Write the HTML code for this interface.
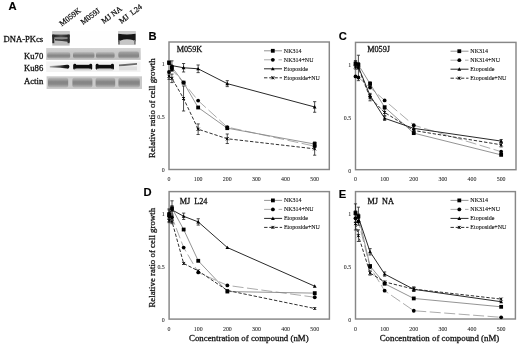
<!DOCTYPE html>
<html><head><meta charset="utf-8"><style>
html,body{margin:0;padding:0;background:#fff;overflow:hidden}
svg{display:block}
text{font-family:"Liberation Serif",serif;fill:#111}
.tk{font-size:5.9px;stroke-width:0.05px!important;fill:#222}
.ct{font-size:8.2px}
.lg{font-size:6px}
.bl{font-size:8.6px;stroke-width:0.3px}
.ln{font-size:7.9px;stroke-width:0.25px}
text{stroke:#111;stroke-width:0.15px}
.at,.ct{stroke-width:0.28px}
.lg{stroke-width:0.1px}
svg{filter:grayscale(1)}
.at{font-size:8.85px}
.lt{font-family:"Liberation Sans",sans-serif;font-weight:bold;font-size:11.2px;fill:#000}
</style></head><body>
<svg width="520" height="346" viewBox="0 0 520 346">
<defs><filter id="bl" x="-5%" y="-5%" width="110%" height="110%"><feGaussianBlur stdDeviation="0.65"/></filter>
<linearGradient id="k70bg" x1="0" y1="0" x2="0" y2="1"><stop offset="0" stop-color="#d4d4d4"/><stop offset="0.35" stop-color="#c8c8c8"/><stop offset="1" stop-color="#c0c0c0"/></linearGradient>
<linearGradient id="k70b" x1="0" y1="0" x2="0" y2="1"><stop offset="0" stop-color="#bcbcbc"/><stop offset="0.5" stop-color="#868686"/><stop offset="0.72" stop-color="#8c8c8c"/><stop offset="1" stop-color="#b4b4b4"/></linearGradient>
<linearGradient id="actb" x1="0" y1="0" x2="0" y2="1"><stop offset="0" stop-color="#bababa"/><stop offset="0.42" stop-color="#848484"/><stop offset="0.66" stop-color="#888888"/><stop offset="1" stop-color="#b8b8b8"/></linearGradient>
<linearGradient id="pk1" x1="0" y1="0" x2="1" y2="0"><stop offset="0" stop-color="#1a1a1a"/><stop offset="0.5" stop-color="#505050"/><stop offset="1" stop-color="#1a1a1a"/></linearGradient>
<linearGradient id="k86w" x1="0" y1="0" x2="1" y2="0"><stop offset="0" stop-color="#b0b0b0"/><stop offset="0.45" stop-color="#555"/><stop offset="0.8" stop-color="#161616"/><stop offset="1" stop-color="#0e0e0e"/></linearGradient>
</defs>
<rect width="520" height="346" fill="#fff"/>
<text x="43.2" y="42.3" class="bl" text-anchor="end">DNA-PKcs</text>
<text x="43.2" y="58.8" class="bl" text-anchor="end">Ku70</text>
<text x="43.2" y="71.3" class="bl" text-anchor="end">Ku86</text>
<text x="43.2" y="83.6" class="bl" text-anchor="end">Actin</text>
<text transform="translate(61.8,26.4) rotate(-37)" class="bl ln">M059K</text>
<text transform="translate(83.0,25.0) rotate(-37)" class="bl ln">M059J</text>
<text transform="translate(103.8,24.0) rotate(-37)" class="bl ln">MJ NA</text>
<text transform="translate(121.4,24.0) rotate(-37)" class="bl ln">MJ  L24</text>
<g filter="url(#bl)">
<rect x="46" y="31" width="94" height="14.5" fill="#fefefe"/>
<rect x="52.3" y="31.2" width="17.3" height="14.4" fill="#bdbdbd"/>
<rect x="52.3" y="31.2" width="17.3" height="3.2" fill="#cacaca"/>
<rect x="52.3" y="34.6" width="17.3" height="3.0" fill="url(#pk1)"/>
<rect x="52.3" y="37.6" width="17.3" height="1.6" fill="#8a8a8a"/>
<path d="M55,39.0 L62,39.2 L69.6,38.8 L69.6,42.0 L62,41.0 L55,40.6Z" fill="#3a3a3a"/>
<rect x="52.3" y="34.6" width="2" height="8.6" fill="#2a2a2a"/>
<rect x="67.6" y="34.6" width="2" height="8.6" fill="#2a2a2a"/>
<rect x="118.2" y="31.1" width="17.4" height="13.8" fill="#c6c6c6"/>
<rect x="118.2" y="31.1" width="17.4" height="2.6" fill="#cdcdcd"/>
<path d="M118.2,33.8 Q127,35.2 135.6,33.8 L135.6,41.4 Q134,39.6 127,39.2 Q120,39.6 118.2,42.2Z" fill="#161616"/>
<rect x="118.2" y="40" width="1.6" height="4.4" fill="#6a6a6a"/>
<rect x="134.0" y="40" width="1.6" height="4.4" fill="#7a7a7a"/>
<rect x="46.2" y="48" width="94.5" height="11.9" fill="url(#k70bg)"/>
<rect x="47.2" y="52.0" width="23" height="6.6" rx="2" fill="url(#k70b)"/>
<rect x="73.0" y="52.0" width="21.4" height="6.6" rx="2" fill="url(#k70b)"/>
<rect x="96.0" y="52.0" width="18.6" height="6.6" rx="2" fill="url(#k70b)"/>
<rect x="118.4" y="52.0" width="20.6" height="6.6" rx="2" fill="url(#k70b)"/>
<rect x="118.4" y="51.4" width="20.6" height="5.2" rx="2" fill="#8a8a8a" opacity="0.5"/>
<rect x="46.2" y="61.4" width="94.3" height="10.6" fill="#f3f3f3"/>
<path d="M49.8,66.0 L60,65.4 L67,64.8 Q69.4,64.2 69.4,66.6 Q69.4,69.2 67,68.6 L60,67.8 L49.8,67.4Z" fill="url(#k86w)"/>
<rect x="73.4" y="64.8" width="18.7" height="3.9" fill="#101010"/>
<rect x="73.4" y="63.8" width="2.8" height="5.9" rx="1.3" fill="#0c0c0c"/>
<rect x="89.30000000000001" y="63.8" width="2.8" height="5.9" rx="1.3" fill="#0c0c0c"/>
<rect x="74.4" y="68.7" width="16.7" height="1.8" fill="#d0d0d0"/>
<rect x="95.8" y="64.8" width="18" height="3.9" fill="#101010"/>
<rect x="95.8" y="63.8" width="2.8" height="5.9" rx="1.3" fill="#0c0c0c"/>
<rect x="111.0" y="63.8" width="2.8" height="5.9" rx="1.3" fill="#0c0c0c"/>
<rect x="96.8" y="68.7" width="16" height="1.8" fill="#d0d0d0"/>
<path d="M119,64.4 L137,63 L137,64.8 L119,66.4Z" fill="#6a6a6a"/>
<rect x="119" y="66.4" width="18" height="4" fill="#dedede"/>
<rect x="46.6" y="76.3" width="95.4" height="12.7" fill="#cacaca"/>
<rect x="48.0" y="77.8" width="20.2" height="9.6" rx="2" fill="url(#actb)"/>
<rect x="72.4" y="77.8" width="20" height="9.6" rx="2" fill="url(#actb)"/>
<rect x="95.6" y="77.8" width="19.6" height="9.6" rx="2" fill="url(#actb)"/>
<rect x="118.4" y="77.8" width="21.4" height="9.6" rx="2" fill="url(#actb)"/>
</g>
<rect x="169.00" y="42.00" width="160.30" height="127.50" fill="none" stroke="#878787" stroke-width="1.45"/>
<text x="164.70" y="172.40" class="tk" text-anchor="end">0</text>
<text x="164.70" y="119.40" class="tk" text-anchor="end">0.5</text>
<text x="164.70" y="66.40" class="tk" text-anchor="end">1</text>
<text x="169.00" y="181.00" class="tk" text-anchor="middle">0</text>
<text x="198.13" y="181.00" class="tk" text-anchor="middle">100</text>
<text x="227.26" y="181.00" class="tk" text-anchor="middle">200</text>
<text x="256.39" y="181.00" class="tk" text-anchor="middle">300</text>
<text x="285.52" y="181.00" class="tk" text-anchor="middle">400</text>
<text x="314.65" y="181.00" class="tk" text-anchor="middle">500</text>
<text x="176.70" y="52.00" class="ct">M059K</text>
<text x="148.60" y="39.60" class="lt">B</text>
<polyline points="169.00,71.98 171.91,69.86 183.56,82.58 198.13,100.60 227.26,127.10 314.65,146.18" fill="none" stroke="#a2a2a2" stroke-width="0.9" stroke-dasharray="11,3.5"/>
<polyline points="169.00,62.44 171.91,67.21 183.56,82.58 198.13,107.49 227.26,128.16 314.65,144.06" fill="none" stroke="#888888" stroke-width="0.9"/>
<polyline points="169.00,76.22 171.91,78.34 183.56,98.48 198.13,129.22 227.26,138.76 314.65,148.83" fill="none" stroke="#303030" stroke-width="1.0" stroke-dasharray="3.4,1.8"/>
<polyline points="169.00,63.50 171.91,65.62 183.56,67.74 198.13,68.80 227.26,83.64 314.65,106.96" fill="none" stroke="#2a2a2a" stroke-width="1.0"/>
<path d="M314.65,141.94V146.18M313.05,141.94H316.25M313.05,146.18H316.25" stroke="#222" stroke-width="0.8" fill="none"/>
<path d="M171.91,60.85V70.39M170.31,60.85H173.51M170.31,70.39H173.51" stroke="#222" stroke-width="0.8" fill="none"/>
<path d="M183.56,63.50V71.98M181.97,63.50H185.16M181.97,71.98H185.16" stroke="#222" stroke-width="0.8" fill="none"/>
<path d="M198.13,64.98V72.62M196.53,64.98H199.73M196.53,72.62H199.73" stroke="#222" stroke-width="0.8" fill="none"/>
<path d="M227.26,80.67V86.61M225.66,80.67H228.86M225.66,86.61H228.86" stroke="#222" stroke-width="0.8" fill="none"/>
<path d="M314.65,101.66V112.26M313.05,101.66H316.25M313.05,112.26H316.25" stroke="#222" stroke-width="0.8" fill="none"/>
<path d="M169.00,73.04V79.40M167.40,73.04H170.60M167.40,79.40H170.60" stroke="#222" stroke-width="0.8" fill="none"/>
<path d="M171.91,74.10V82.58M170.31,74.10H173.51M170.31,82.58H173.51" stroke="#222" stroke-width="0.8" fill="none"/>
<path d="M183.56,85.97V110.99M181.97,85.97H185.16M181.97,110.99H185.16" stroke="#222" stroke-width="0.8" fill="none"/>
<path d="M198.13,123.92V134.52M196.53,123.92H199.73M196.53,134.52H199.73" stroke="#222" stroke-width="0.8" fill="none"/>
<path d="M227.26,133.99V143.53M225.66,133.99H228.86M225.66,143.53H228.86" stroke="#222" stroke-width="0.8" fill="none"/>
<path d="M314.65,142.47V155.19M313.05,142.47H316.25M313.05,155.19H316.25" stroke="#222" stroke-width="0.8" fill="none"/>
<rect x="167.10" y="60.54" width="3.80" height="3.80" fill="#000"/>
<rect x="170.01" y="65.31" width="3.80" height="3.80" fill="#000"/>
<rect x="181.66" y="80.68" width="3.80" height="3.80" fill="#000"/>
<rect x="196.23" y="105.59" width="3.80" height="3.80" fill="#000"/>
<rect x="225.36" y="126.26" width="3.80" height="3.80" fill="#000"/>
<rect x="312.75" y="142.16" width="3.80" height="3.80" fill="#000"/>
<circle cx="169.00" cy="71.98" r="1.90" fill="#000"/>
<circle cx="171.91" cy="69.86" r="1.90" fill="#000"/>
<circle cx="183.56" cy="82.58" r="1.90" fill="#000"/>
<circle cx="198.13" cy="100.60" r="1.90" fill="#000"/>
<circle cx="227.26" cy="127.10" r="1.90" fill="#000"/>
<circle cx="314.65" cy="146.18" r="1.90" fill="#000"/>
<path d="M169.00,61.60L170.90,65.02L167.10,65.02Z" fill="#000"/>
<path d="M171.91,63.72L173.81,67.14L170.01,67.14Z" fill="#000"/>
<path d="M183.56,65.84L185.47,69.26L181.66,69.26Z" fill="#000"/>
<path d="M198.13,66.90L200.03,70.32L196.23,70.32Z" fill="#000"/>
<path d="M227.26,81.74L229.16,85.16L225.36,85.16Z" fill="#000"/>
<path d="M314.65,105.06L316.55,108.48L312.75,108.48Z" fill="#000"/>
<path d="M167.50,74.72L170.50,77.72M170.50,74.72L167.50,77.72M169.00,74.72V77.72" stroke="#000" stroke-width="0.9" fill="none"/>
<path d="M170.41,76.84L173.41,79.84M173.41,76.84L170.41,79.84M171.91,76.84V79.84" stroke="#000" stroke-width="0.9" fill="none"/>
<path d="M182.06,96.98L185.06,99.98M185.06,96.98L182.06,99.98M183.56,96.98V99.98" stroke="#000" stroke-width="0.9" fill="none"/>
<path d="M196.63,127.72L199.63,130.72M199.63,127.72L196.63,130.72M198.13,127.72V130.72" stroke="#000" stroke-width="0.9" fill="none"/>
<path d="M225.76,137.26L228.76,140.26M228.76,137.26L225.76,140.26M227.26,137.26V140.26" stroke="#000" stroke-width="0.9" fill="none"/>
<path d="M313.15,147.33L316.15,150.33M316.15,147.33L313.15,150.33M314.65,147.33V150.33" stroke="#000" stroke-width="0.9" fill="none"/>
<line x1="264.00" y1="50.80" x2="282.00" y2="50.80" stroke="#888888" stroke-width="0.9"/>
<rect x="270.90" y="48.90" width="3.80" height="3.80" fill="#000"/>
<text x="283.80" y="52.80" class="lg">NK314</text>
<line x1="264.00" y1="59.80" x2="282.00" y2="59.80" stroke="#a2a2a2" stroke-width="0.9" stroke-dasharray="11,3.5"/>
<circle cx="272.80" cy="59.80" r="1.90" fill="#000"/>
<text x="283.80" y="61.80" class="lg">NK314+NU</text>
<line x1="264.00" y1="68.80" x2="282.00" y2="68.80" stroke="#2a2a2a" stroke-width="1.0"/>
<path d="M272.80,66.90L274.70,70.32L270.90,70.32Z" fill="#000"/>
<text x="283.80" y="70.80" class="lg">Etoposide</text>
<line x1="264.00" y1="77.80" x2="282.00" y2="77.80" stroke="#303030" stroke-width="1.0" stroke-dasharray="3.4,1.8"/>
<path d="M271.30,76.30L274.30,79.30M274.30,76.30L271.30,79.30M272.80,76.30V79.30" stroke="#000" stroke-width="0.9" fill="none"/>
<text x="283.80" y="79.80" class="lg">Etoposide+NU</text>
<rect x="355.50" y="42.40" width="160.50" height="127.30" fill="none" stroke="#878787" stroke-width="1.45"/>
<text x="351.20" y="172.60" class="tk" text-anchor="end">0</text>
<text x="351.20" y="119.60" class="tk" text-anchor="end">0.5</text>
<text x="351.20" y="66.60" class="tk" text-anchor="end">1</text>
<text x="355.50" y="181.20" class="tk" text-anchor="middle">0</text>
<text x="384.63" y="181.20" class="tk" text-anchor="middle">100</text>
<text x="413.76" y="181.20" class="tk" text-anchor="middle">200</text>
<text x="442.89" y="181.20" class="tk" text-anchor="middle">300</text>
<text x="472.02" y="181.20" class="tk" text-anchor="middle">400</text>
<text x="501.15" y="181.20" class="tk" text-anchor="middle">500</text>
<text x="367.20" y="52.00" class="ct">M059J</text>
<text x="338.80" y="40.40" class="lt">C</text>
<polyline points="355.50,76.42 358.41,77.48 370.06,87.55 384.63,100.38 413.76,125.18 501.15,151.68" fill="none" stroke="#a2a2a2" stroke-width="0.9" stroke-dasharray="11,3.5"/>
<polyline points="355.50,63.70 358.41,64.76 370.06,83.84 384.63,107.16 413.76,133.13 501.15,154.86" fill="none" stroke="#888888" stroke-width="0.9"/>
<polyline points="355.50,66.88 358.41,67.94 370.06,97.62 384.63,112.46 413.76,130.48 501.15,144.79" fill="none" stroke="#303030" stroke-width="1.0" stroke-dasharray="3.4,1.8"/>
<polyline points="355.50,63.70 358.41,66.88 370.06,95.50 384.63,118.29 413.76,128.36 501.15,141.08" fill="none" stroke="#2a2a2a" stroke-width="1.0"/>
<path d="M355.50,61.58V65.82M353.90,61.58H357.10M353.90,65.82H357.10" stroke="#222" stroke-width="0.8" fill="none"/>
<path d="M358.41,62.64V66.88M356.81,62.64H360.01M356.81,66.88H360.01" stroke="#222" stroke-width="0.8" fill="none"/>
<path d="M370.06,81.72V85.96M368.46,81.72H371.67M368.46,85.96H371.67" stroke="#222" stroke-width="0.8" fill="none"/>
<path d="M355.50,60.52V66.88M353.90,60.52H357.10M353.90,66.88H357.10" stroke="#222" stroke-width="0.8" fill="none"/>
<path d="M358.41,64.76V69.00M356.81,64.76H360.01M356.81,69.00H360.01" stroke="#222" stroke-width="0.8" fill="none"/>
<path d="M370.06,93.38V97.62M368.46,93.38H371.67M368.46,97.62H371.67" stroke="#222" stroke-width="0.8" fill="none"/>
<path d="M384.63,116.17V120.41M383.03,116.17H386.23M383.03,120.41H386.23" stroke="#222" stroke-width="0.8" fill="none"/>
<path d="M413.76,126.24V130.48M412.16,126.24H415.36M412.16,130.48H415.36" stroke="#222" stroke-width="0.8" fill="none"/>
<path d="M501.15,139.49V142.67M499.55,139.49H502.75M499.55,142.67H502.75" stroke="#222" stroke-width="0.8" fill="none"/>
<path d="M355.50,64.76V69.00M353.90,64.76H357.10M353.90,69.00H357.10" stroke="#222" stroke-width="0.8" fill="none"/>
<path d="M358.41,55.22V80.66M356.81,55.22H360.01M356.81,80.66H360.01" stroke="#222" stroke-width="0.8" fill="none"/>
<path d="M370.06,94.44V100.80M368.46,94.44H371.67M368.46,100.80H371.67" stroke="#222" stroke-width="0.8" fill="none"/>
<path d="M384.63,109.28V115.64M383.03,109.28H386.23M383.03,115.64H386.23" stroke="#222" stroke-width="0.8" fill="none"/>
<path d="M413.76,128.36V132.60M412.16,128.36H415.36M412.16,132.60H415.36" stroke="#222" stroke-width="0.8" fill="none"/>
<path d="M501.15,142.67V146.91M499.55,142.67H502.75M499.55,146.91H502.75" stroke="#222" stroke-width="0.8" fill="none"/>
<rect x="353.60" y="61.80" width="3.80" height="3.80" fill="#000"/>
<rect x="356.51" y="62.86" width="3.80" height="3.80" fill="#000"/>
<rect x="368.17" y="81.94" width="3.80" height="3.80" fill="#000"/>
<rect x="382.73" y="105.26" width="3.80" height="3.80" fill="#000"/>
<rect x="411.86" y="131.23" width="3.80" height="3.80" fill="#000"/>
<rect x="499.25" y="152.96" width="3.80" height="3.80" fill="#000"/>
<circle cx="355.50" cy="76.42" r="1.90" fill="#000"/>
<circle cx="358.41" cy="77.48" r="1.90" fill="#000"/>
<circle cx="370.06" cy="87.55" r="1.90" fill="#000"/>
<circle cx="384.63" cy="100.38" r="1.90" fill="#000"/>
<circle cx="413.76" cy="125.18" r="1.90" fill="#000"/>
<circle cx="501.15" cy="151.68" r="1.90" fill="#000"/>
<path d="M355.50,61.80L357.40,65.22L353.60,65.22Z" fill="#000"/>
<path d="M358.41,64.98L360.31,68.40L356.51,68.40Z" fill="#000"/>
<path d="M370.06,93.60L371.96,97.02L368.17,97.02Z" fill="#000"/>
<path d="M384.63,116.39L386.53,119.81L382.73,119.81Z" fill="#000"/>
<path d="M413.76,126.46L415.66,129.88L411.86,129.88Z" fill="#000"/>
<path d="M501.15,139.18L503.05,142.60L499.25,142.60Z" fill="#000"/>
<path d="M354.00,65.38L357.00,68.38M357.00,65.38L354.00,68.38M355.50,65.38V68.38" stroke="#000" stroke-width="0.9" fill="none"/>
<path d="M356.91,66.44L359.91,69.44M359.91,66.44L356.91,69.44M358.41,66.44V69.44" stroke="#000" stroke-width="0.9" fill="none"/>
<path d="M368.56,96.12L371.56,99.12M371.56,96.12L368.56,99.12M370.06,96.12V99.12" stroke="#000" stroke-width="0.9" fill="none"/>
<path d="M383.13,110.96L386.13,113.96M386.13,110.96L383.13,113.96M384.63,110.96V113.96" stroke="#000" stroke-width="0.9" fill="none"/>
<path d="M412.26,128.98L415.26,131.98M415.26,128.98L412.26,131.98M413.76,128.98V131.98" stroke="#000" stroke-width="0.9" fill="none"/>
<path d="M499.65,143.29L502.65,146.29M502.65,143.29L499.65,146.29M501.15,143.29V146.29" stroke="#000" stroke-width="0.9" fill="none"/>
<line x1="450.50" y1="51.20" x2="468.50" y2="51.20" stroke="#888888" stroke-width="0.9"/>
<rect x="457.40" y="49.30" width="3.80" height="3.80" fill="#000"/>
<text x="470.30" y="53.20" class="lg">NK314</text>
<line x1="450.50" y1="60.20" x2="468.50" y2="60.20" stroke="#a2a2a2" stroke-width="0.9" stroke-dasharray="11,3.5"/>
<circle cx="459.30" cy="60.20" r="1.90" fill="#000"/>
<text x="470.30" y="62.20" class="lg">NK314+NU</text>
<line x1="450.50" y1="69.20" x2="468.50" y2="69.20" stroke="#2a2a2a" stroke-width="1.0"/>
<path d="M459.30,67.30L461.20,70.72L457.40,70.72Z" fill="#000"/>
<text x="470.30" y="71.20" class="lg">Etoposide</text>
<line x1="450.50" y1="78.20" x2="468.50" y2="78.20" stroke="#303030" stroke-width="1.0" stroke-dasharray="3.4,1.8"/>
<path d="M457.80,76.70L460.80,79.70M460.80,76.70L457.80,79.70M459.30,76.70V79.70" stroke="#000" stroke-width="0.9" fill="none"/>
<text x="470.30" y="80.20" class="lg">Etoposide+NU</text>
<rect x="169.10" y="191.60" width="160.30" height="127.50" fill="none" stroke="#878787" stroke-width="1.45"/>
<text x="164.80" y="322.00" class="tk" text-anchor="end">0</text>
<text x="164.80" y="269.00" class="tk" text-anchor="end">0.5</text>
<text x="164.80" y="216.00" class="tk" text-anchor="end">1</text>
<text x="169.10" y="330.60" class="tk" text-anchor="middle">0</text>
<text x="198.23" y="330.60" class="tk" text-anchor="middle">100</text>
<text x="227.36" y="330.60" class="tk" text-anchor="middle">200</text>
<text x="256.49" y="330.60" class="tk" text-anchor="middle">300</text>
<text x="285.62" y="330.60" class="tk" text-anchor="middle">400</text>
<text x="314.75" y="330.60" class="tk" text-anchor="middle">500</text>
<text x="179.70" y="203.90" class="ct">MJ  L24</text>
<text x="143.60" y="195.60" class="lt">D</text>
<polyline points="169.10,216.28 172.01,217.34 183.66,247.55 198.23,272.46 227.36,285.39 314.75,297.26" fill="none" stroke="#a2a2a2" stroke-width="0.9" stroke-dasharray="11,3.5"/>
<polyline points="169.10,214.16 172.01,208.22 183.66,229.53 198.23,260.80 227.36,291.54 314.75,293.13" fill="none" stroke="#888888" stroke-width="0.9"/>
<polyline points="169.10,220.52 172.01,221.58 183.66,263.45 198.23,270.87 227.36,290.48 314.75,308.50" fill="none" stroke="#303030" stroke-width="1.0" stroke-dasharray="3.4,1.8"/>
<polyline points="169.10,213.10 172.01,209.92 183.66,216.28 198.23,221.90 227.36,247.55 314.75,286.24" fill="none" stroke="#2a2a2a" stroke-width="1.0"/>
<path d="M169.10,208.86V219.46M167.50,208.86H170.70M167.50,219.46H170.70" stroke="#222" stroke-width="0.8" fill="none"/>
<path d="M172.01,200.80V215.64M170.41,200.80H173.61M170.41,215.64H173.61" stroke="#222" stroke-width="0.8" fill="none"/>
<path d="M169.10,209.92V216.28M167.50,209.92H170.70M167.50,216.28H170.70" stroke="#222" stroke-width="0.8" fill="none"/>
<path d="M172.01,205.68V214.16M170.41,205.68H173.61M170.41,214.16H173.61" stroke="#222" stroke-width="0.8" fill="none"/>
<path d="M183.66,213.10V219.46M182.06,213.10H185.26M182.06,219.46H185.26" stroke="#222" stroke-width="0.8" fill="none"/>
<path d="M198.23,218.72V225.08M196.63,218.72H199.83M196.63,225.08H199.83" stroke="#222" stroke-width="0.8" fill="none"/>
<path d="M169.10,218.40V222.64M167.50,218.40H170.70M167.50,222.64H170.70" stroke="#222" stroke-width="0.8" fill="none"/>
<path d="M172.01,219.46V223.70M170.41,219.46H173.61M170.41,223.70H173.61" stroke="#222" stroke-width="0.8" fill="none"/>
<rect x="167.20" y="212.26" width="3.80" height="3.80" fill="#000"/>
<rect x="170.11" y="206.32" width="3.80" height="3.80" fill="#000"/>
<rect x="181.76" y="227.63" width="3.80" height="3.80" fill="#000"/>
<rect x="196.33" y="258.90" width="3.80" height="3.80" fill="#000"/>
<rect x="225.46" y="289.64" width="3.80" height="3.80" fill="#000"/>
<rect x="312.85" y="291.23" width="3.80" height="3.80" fill="#000"/>
<circle cx="169.10" cy="216.28" r="1.90" fill="#000"/>
<circle cx="172.01" cy="217.34" r="1.90" fill="#000"/>
<circle cx="183.66" cy="247.55" r="1.90" fill="#000"/>
<circle cx="198.23" cy="272.46" r="1.90" fill="#000"/>
<circle cx="227.36" cy="285.39" r="1.90" fill="#000"/>
<circle cx="314.75" cy="297.26" r="1.90" fill="#000"/>
<path d="M169.10,211.20L171.00,214.62L167.20,214.62Z" fill="#000"/>
<path d="M172.01,208.02L173.91,211.44L170.11,211.44Z" fill="#000"/>
<path d="M183.66,214.38L185.56,217.80L181.76,217.80Z" fill="#000"/>
<path d="M198.23,220.00L200.13,223.42L196.33,223.42Z" fill="#000"/>
<path d="M227.36,245.65L229.26,249.07L225.46,249.07Z" fill="#000"/>
<path d="M314.75,284.34L316.65,287.76L312.85,287.76Z" fill="#000"/>
<path d="M167.60,219.02L170.60,222.02M170.60,219.02L167.60,222.02M169.10,219.02V222.02" stroke="#000" stroke-width="0.9" fill="none"/>
<path d="M170.51,220.08L173.51,223.08M173.51,220.08L170.51,223.08M172.01,220.08V223.08" stroke="#000" stroke-width="0.9" fill="none"/>
<path d="M182.16,261.95L185.16,264.95M185.16,261.95L182.16,264.95M183.66,261.95V264.95" stroke="#000" stroke-width="0.9" fill="none"/>
<path d="M196.73,269.37L199.73,272.37M199.73,269.37L196.73,272.37M198.23,269.37V272.37" stroke="#000" stroke-width="0.9" fill="none"/>
<path d="M225.86,288.98L228.86,291.98M228.86,288.98L225.86,291.98M227.36,288.98V291.98" stroke="#000" stroke-width="0.9" fill="none"/>
<path d="M313.25,307.00L316.25,310.00M316.25,307.00L313.25,310.00M314.75,307.00V310.00" stroke="#000" stroke-width="0.9" fill="none"/>
<line x1="264.10" y1="200.40" x2="282.10" y2="200.40" stroke="#888888" stroke-width="0.9"/>
<rect x="271.00" y="198.50" width="3.80" height="3.80" fill="#000"/>
<text x="283.90" y="202.40" class="lg">NK314</text>
<line x1="264.10" y1="209.40" x2="282.10" y2="209.40" stroke="#a2a2a2" stroke-width="0.9" stroke-dasharray="11,3.5"/>
<circle cx="272.90" cy="209.40" r="1.90" fill="#000"/>
<text x="283.90" y="211.40" class="lg">NK314+NU</text>
<line x1="264.10" y1="218.40" x2="282.10" y2="218.40" stroke="#2a2a2a" stroke-width="1.0"/>
<path d="M272.90,216.50L274.80,219.92L271.00,219.92Z" fill="#000"/>
<text x="283.90" y="220.40" class="lg">Etoposide</text>
<line x1="264.10" y1="227.40" x2="282.10" y2="227.40" stroke="#303030" stroke-width="1.0" stroke-dasharray="3.4,1.8"/>
<path d="M271.40,225.90L274.40,228.90M274.40,225.90L271.40,228.90M272.90,225.90V228.90" stroke="#000" stroke-width="0.9" fill="none"/>
<text x="283.90" y="229.40" class="lg">Etoposide+NU</text>
<rect x="355.50" y="191.60" width="159.90" height="127.40" fill="none" stroke="#878787" stroke-width="1.45"/>
<text x="351.20" y="321.90" class="tk" text-anchor="end">0</text>
<text x="351.20" y="268.90" class="tk" text-anchor="end">0.5</text>
<text x="351.20" y="215.90" class="tk" text-anchor="end">1</text>
<text x="355.50" y="330.50" class="tk" text-anchor="middle">0</text>
<text x="384.63" y="330.50" class="tk" text-anchor="middle">100</text>
<text x="413.76" y="330.50" class="tk" text-anchor="middle">200</text>
<text x="442.89" y="330.50" class="tk" text-anchor="middle">300</text>
<text x="472.02" y="330.50" class="tk" text-anchor="middle">400</text>
<text x="501.15" y="330.50" class="tk" text-anchor="middle">500</text>
<text x="367.50" y="203.90" class="ct">MJ  NA</text>
<text x="338.80" y="197.50" class="lt">E</text>
<polyline points="355.50,218.30 358.41,221.48 370.06,267.06 384.63,290.70 413.76,310.73 501.15,317.30" fill="none" stroke="#a2a2a2" stroke-width="0.9" stroke-dasharray="11,3.5"/>
<polyline points="355.50,213.00 358.41,216.18 370.06,266.00 384.63,283.70 413.76,298.44 501.15,306.81" fill="none" stroke="#888888" stroke-width="0.9"/>
<polyline points="355.50,223.60 358.41,235.68 370.06,273.00 384.63,281.90 413.76,289.11 501.15,299.07" fill="none" stroke="#303030" stroke-width="1.0" stroke-dasharray="3.4,1.8"/>
<polyline points="355.50,213.00 358.41,217.24 370.06,251.80 384.63,274.06 413.76,289.32 501.15,301.72" fill="none" stroke="#2a2a2a" stroke-width="1.0"/>
<path d="M355.50,210.88V215.12M353.90,210.88H357.10M353.90,215.12H357.10" stroke="#222" stroke-width="0.8" fill="none"/>
<path d="M358.41,207.17V225.19M356.81,207.17H360.01M356.81,225.19H360.01" stroke="#222" stroke-width="0.8" fill="none"/>
<path d="M355.50,203.88V222.12M353.90,203.88H357.10M353.90,222.12H357.10" stroke="#222" stroke-width="0.8" fill="none"/>
<path d="M358.41,214.06V220.42M356.81,214.06H360.01M356.81,220.42H360.01" stroke="#222" stroke-width="0.8" fill="none"/>
<path d="M370.06,248.62V254.98M368.46,248.62H371.67M368.46,254.98H371.67" stroke="#222" stroke-width="0.8" fill="none"/>
<path d="M384.63,271.94V276.18M383.03,271.94H386.23M383.03,276.18H386.23" stroke="#222" stroke-width="0.8" fill="none"/>
<path d="M413.76,287.20V291.44M412.16,287.20H415.36M412.16,291.44H415.36" stroke="#222" stroke-width="0.8" fill="none"/>
<path d="M355.50,217.24V229.96M353.90,217.24H357.10M353.90,229.96H357.10" stroke="#222" stroke-width="0.8" fill="none"/>
<path d="M358.41,229.85V241.51M356.81,229.85H360.01M356.81,241.51H360.01" stroke="#222" stroke-width="0.8" fill="none"/>
<path d="M370.06,270.88V275.12M368.46,270.88H371.67M368.46,275.12H371.67" stroke="#222" stroke-width="0.8" fill="none"/>
<path d="M413.76,286.99V291.23M412.16,286.99H415.36M412.16,291.23H415.36" stroke="#222" stroke-width="0.8" fill="none"/>
<rect x="353.60" y="211.10" width="3.80" height="3.80" fill="#000"/>
<rect x="356.51" y="214.28" width="3.80" height="3.80" fill="#000"/>
<rect x="368.17" y="264.10" width="3.80" height="3.80" fill="#000"/>
<rect x="382.73" y="281.80" width="3.80" height="3.80" fill="#000"/>
<rect x="411.86" y="296.54" width="3.80" height="3.80" fill="#000"/>
<rect x="499.25" y="304.91" width="3.80" height="3.80" fill="#000"/>
<circle cx="355.50" cy="218.30" r="1.90" fill="#000"/>
<circle cx="358.41" cy="221.48" r="1.90" fill="#000"/>
<circle cx="370.06" cy="267.06" r="1.90" fill="#000"/>
<circle cx="384.63" cy="290.70" r="1.90" fill="#000"/>
<circle cx="413.76" cy="310.73" r="1.90" fill="#000"/>
<circle cx="501.15" cy="317.30" r="1.90" fill="#000"/>
<path d="M355.50,211.10L357.40,214.52L353.60,214.52Z" fill="#000"/>
<path d="M358.41,215.34L360.31,218.76L356.51,218.76Z" fill="#000"/>
<path d="M370.06,249.90L371.96,253.32L368.17,253.32Z" fill="#000"/>
<path d="M384.63,272.16L386.53,275.58L382.73,275.58Z" fill="#000"/>
<path d="M413.76,287.42L415.66,290.84L411.86,290.84Z" fill="#000"/>
<path d="M501.15,299.82L503.05,303.24L499.25,303.24Z" fill="#000"/>
<path d="M354.00,222.10L357.00,225.10M357.00,222.10L354.00,225.10M355.50,222.10V225.10" stroke="#000" stroke-width="0.9" fill="none"/>
<path d="M356.91,234.18L359.91,237.18M359.91,234.18L356.91,237.18M358.41,234.18V237.18" stroke="#000" stroke-width="0.9" fill="none"/>
<path d="M368.56,271.50L371.56,274.50M371.56,271.50L368.56,274.50M370.06,271.50V274.50" stroke="#000" stroke-width="0.9" fill="none"/>
<path d="M383.13,280.40L386.13,283.40M386.13,280.40L383.13,283.40M384.63,280.40V283.40" stroke="#000" stroke-width="0.9" fill="none"/>
<path d="M412.26,287.61L415.26,290.61M415.26,287.61L412.26,290.61M413.76,287.61V290.61" stroke="#000" stroke-width="0.9" fill="none"/>
<path d="M499.65,297.57L502.65,300.57M502.65,297.57L499.65,300.57M501.15,297.57V300.57" stroke="#000" stroke-width="0.9" fill="none"/>
<line x1="450.50" y1="200.40" x2="468.50" y2="200.40" stroke="#888888" stroke-width="0.9"/>
<rect x="457.40" y="198.50" width="3.80" height="3.80" fill="#000"/>
<text x="470.30" y="202.40" class="lg">NK314</text>
<line x1="450.50" y1="209.40" x2="468.50" y2="209.40" stroke="#a2a2a2" stroke-width="0.9" stroke-dasharray="11,3.5"/>
<circle cx="459.30" cy="209.40" r="1.90" fill="#000"/>
<text x="470.30" y="211.40" class="lg">NK314+NU</text>
<line x1="450.50" y1="218.40" x2="468.50" y2="218.40" stroke="#2a2a2a" stroke-width="1.0"/>
<path d="M459.30,216.50L461.20,219.92L457.40,219.92Z" fill="#000"/>
<text x="470.30" y="220.40" class="lg">Etoposide</text>
<line x1="450.50" y1="227.40" x2="468.50" y2="227.40" stroke="#303030" stroke-width="1.0" stroke-dasharray="3.4,1.8"/>
<path d="M457.80,225.90L460.80,228.90M460.80,225.90L457.80,228.90M459.30,225.90V228.90" stroke="#000" stroke-width="0.9" fill="none"/>
<text x="470.30" y="229.40" class="lg">Etoposide+NU</text>
<text transform="translate(155.3,158.0) rotate(-90)" class="at">Relative ratio of cell growth</text>
<text transform="translate(155.3,307.6) rotate(-90)" class="at">Relative ratio of cell growth</text>
<text x="189.0" y="340.9" class="at">Concentration of compound (nM)</text>
<text x="379.7" y="340.6" class="at">Concentration of compound (nM)</text>
<text x="8.4" y="9.8" class="lt">A</text>
</svg>
</body></html>
